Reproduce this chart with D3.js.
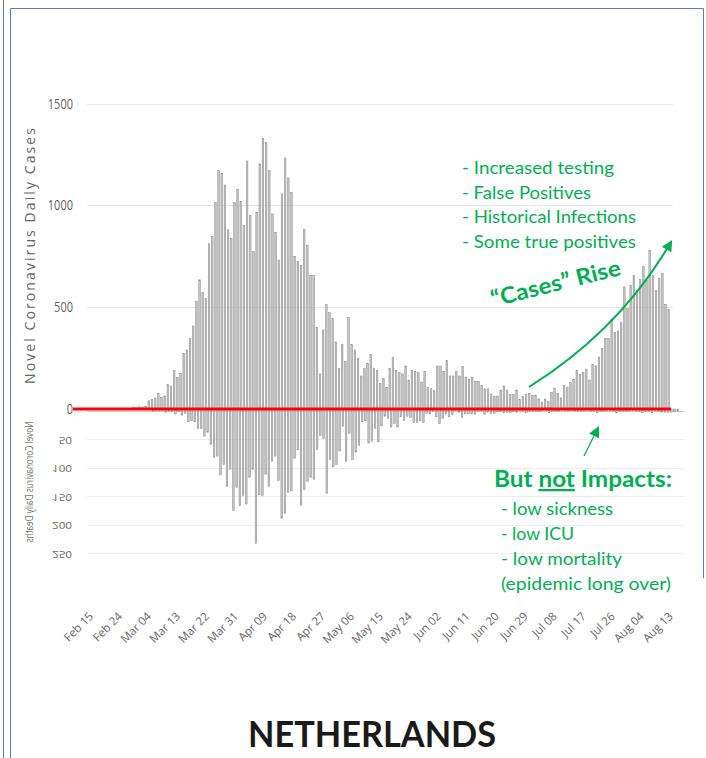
<!DOCTYPE html>
<html><head><meta charset="utf-8">
<script src="https://cdn.jsdelivr.net/npm/d3@7"></script>
<style>body{margin:0;background:#fff}svg{display:block}</style>
</head><body>
<svg id="c" width="706" height="758"></svg>
<script>
// ---------------- data ----------------
const axisStart = "2020-02-15";
const tickDates = ["2020-02-15","2020-02-24","2020-03-04","2020-03-13","2020-03-22","2020-03-31","2020-04-09",
  "2020-04-18","2020-04-27","2020-05-06","2020-05-15","2020-05-24","2020-06-02","2020-06-11","2020-06-20",
  "2020-06-29","2020-07-08","2020-07-17","2020-07-26","2020-08-04","2020-08-13"];
const caseStart = "2020-02-27";
const cases = [1,0,5,4,8,6,
  12,38,45,52,75,55,62,117,111,186,154,173,272,288,344,406,528,633,570,541,810,846,1014,1171,1155,1099,879,838,
  1012,1078,1019,901,1217,950,773,963,1203,1329,1309,1170,957,865,730,1055,1232,1134,1062,747,724,704,881,803,655,655,399,170,386,511,
  471,442,327,196,314,232,448,314,288,245,160,196,222,265,196,186,124,147,104,196,252,186,176,170,209,140,189,183,176,130,183,
  104,97,88,209,209,183,235,160,160,183,160,206,154,144,154,134,134,114,97,97,71,61,61,91,111,91,68,68,91,45,
  58,71,75,65,66,47,32,47,34,80,100,74,52,112,105,128,145,189,169,177,194,140,217,210,253,296,345,345,440,374,381,424,
  598,493,604,653,581,634,699,632,778,653,581,640,663,512,486];
const deathStart = "2020-03-06";
const deaths = [1,0,0,0,3,1,1,6,2,8,5,20,18,20,32,32,45,38,60,82,80,113,95,133,103,175,
  135,167,149,164,117,103,233,148,149,112,133,89,80,123,189,181,144,141,84,69,166,139,124,117,121,68,44,49,146,86,
  99,95,71,28,89,40,86,73,61,20,18,57,54,31,55,27,10,14,29,23,29,11,17,10,12,21,21,18,21,5,6,
  1,11,23,14,6,11,7,0,3,12,6,6,6,7,1,0,7,3,5,5,2,1,4,3,4,2,3,0,1,4,
  2,1,1,2,0,0,4,1,1,1,0,0,1,0,1,1,1,0,0,1,1,4,1,2,0,0,1,4,1,2,1,
  0,0,1,2,4,2,1,4,0,1,3,3,3,3,2,1];
const caseTicks = [0,500,1000,1500];
const deathTicks = [50,100,150,200,250];
const notesTop = ["- Increased testing","- False Positives","- Historical Infections","- Some true positives"];
const notesBottom = ["- low sickness","- low ICU","- low mortality","(epidemic long over)"];
const riseLabel = "\u201cCases\u201d Rise";
const impactParts = ["But ","not"," Impacts:"];
const titleText = "NETHERLANDS";
const casesTitle = "Novel Coronavirus Daily Cases";
const deathsTitle = "Novel Coronavirus Daily Deaths";

// ---------------- setup ----------------
const parse = d3.utcParse("%Y-%m-%d");
const day = 864e5;
const t0 = parse(axisStart);
const tEnd = parse("2020-08-13");
const svg = d3.select("#c");
const GREEN = "#00b050";

const xCase = d3.scaleUtc().domain([t0, tEnd]).range([88.6, 88.6 + 180*3.17]);
const xDeath = d3.scaleUtc().domain([t0, tEnd]).range([88.5, 88.5 + 180*3.22]);
const yCase = d3.scaleLinear().domain([0,1500]).range([408.5, 103.5]);
const yDeath = d3.scaleLinear().domain([0,250]).range([410.5, 553]);

const caseData = cases.map((v,i)=>({d:new Date(parse(caseStart).getTime()+i*day), v}));
const deathData = deaths.map((v,i)=>({d:new Date(parse(deathStart).getTime()+i*day), v}));

svg.append("rect").attr("width",706).attr("height",758).attr("fill","#fff");

// borders
const BORDER = "#5b7cb3";
svg.append("line").attr("x1",3.5).attr("x2",3.5).attr("y1",0).attr("y2",758).attr("stroke",BORDER);
svg.append("line").attr("x1",10.5).attr("x2",10.5).attr("y1",8.5).attr("y2",758).attr("stroke",BORDER);
svg.append("line").attr("x1",10.5).attr("x2",703.5).attr("y1",8.5).attr("y2",8.5).attr("stroke",BORDER);
svg.append("line").attr("x1",703.5).attr("x2",703.5).attr("y1",8.5).attr("y2",578).attr("stroke",BORDER);

// gridlines
svg.append("g").selectAll("line").data(caseTicks.filter(d=>d>0)).join("line")
  .attr("x1",87).attr("x2",673).attr("y1",d=>Math.round(yCase(d))+0.5).attr("y2",d=>Math.round(yCase(d))+0.5)
  .attr("stroke","#e6e6e6");
svg.append("g").selectAll("line").data(deathTicks).join("line")
  .attr("x1",87).attr("x2",684).attr("y1",d=>Math.round(yDeath(d))+0.5).attr("y2",d=>Math.round(yDeath(d))+0.5)
  .attr("stroke","#ececec");
svg.append("line").attr("x1",87).attr("x2",684).attr("y1",411.5).attr("y2",411.5).attr("stroke","#c8c8c8");

// case axis labels
const gy = svg.append("g").attr("transform","translate(74.5,0)")
  .call(d3.axisLeft(yCase).tickValues(caseTicks).tickFormat(d3.format("d")).tickSize(0).tickPadding(0));
gy.select(".domain").remove();
gy.selectAll("text").attr("fill","#5f5f5f").attr("font-family","Open Sans").attr("font-size",14.5)
  .attr("transform","scale(0.76,1)").attr("x",-2);

// death axis labels (vertically flipped)
const gd = svg.append("g").attr("transform","translate(72,0)")
  .call(d3.axisLeft(yDeath).tickValues(deathTicks).tickFormat(d3.format("d")).tickSize(0).tickPadding(0));
gd.select(".domain").remove();
gd.selectAll("text").attr("fill","#6a6a6a").attr("font-family","Open Sans").attr("font-size",9)
  .attr("x",0).attr("transform","scale(1.3,-1)");

// partially visible clipped label
svg.append("clipPath").attr("id","clipLbl").append("rect").attr("x",60).attr("y",599).attr("width",20).attr("height",3.5);
svg.append("text").attr("clip-path","url(#clipLbl)").attr("transform","translate(72,604) scale(1.3,-1)")
  .attr("text-anchor","end").attr("font-family","Open Sans").attr("font-size",9).attr("fill","#6a6a6a").text("300");

// axis titles
svg.append("text").attr("transform","translate(35,256) rotate(-90)").attr("text-anchor","middle")
  .attr("font-family","Open Sans").attr("font-size",14).attr("fill","#666")
  .attr("textLength",256).attr("lengthAdjust","spacing").text(casesTitle);
svg.append("text").attr("transform","translate(33,482) scale(1,-1) rotate(-90)").attr("text-anchor","middle")
  .attr("font-family","Open Sans").attr("font-size",11).attr("fill","#6f6f6f")
  .attr("textLength",121).attr("lengthAdjust","spacingAndGlyphs").text(deathsTitle);

// bars
const BAR_FILL = "#c4c4c4", BAR_STROKE = "#8a8a8a";
svg.append("g").selectAll("rect").data(caseData).join("rect")
  .attr("x",d=>xCase(d.d)-0.8).attr("width",1.6)
  .attr("y",d=>yCase(d.v)).attr("height",d=>yCase(0)-yCase(d.v))
  .attr("fill",BAR_FILL).attr("stroke",BAR_STROKE).attr("stroke-width",0.5);
svg.append("g").selectAll("rect").data(deathData).join("rect")
  .attr("x",d=>xDeath(d.d)-0.8).attr("width",1.6)
  .attr("y",409).attr("height",d=>yDeath(d.v)-409)
  .attr("fill",BAR_FILL).attr("stroke",BAR_STROKE).attr("stroke-width",0.5);

// red baseline
svg.append("line").attr("x1",73).attr("x2",671).attr("y1",409).attr("y2",409).attr("stroke","#ff0000").attr("stroke-width",3);

// date labels
const gx = svg.append("g").attr("transform","translate(5,617)")
  .call(d3.axisBottom(xDeath).tickValues(tickDates.map(parse)).tickFormat(d3.utcFormat("%b %d")).tickSize(0).tickPadding(0));
gx.select(".domain").remove();
gx.selectAll("text").attr("y",0).attr("dy",0).attr("text-anchor","end").attr("transform","rotate(-45)")
  .attr("font-family","Open Sans").attr("font-size",11.5).attr("fill","#666");

// annotations
const topW = [152,129,174,174], topY=[174.2,198.7,223.2,247.6];
svg.append("g").selectAll("text").data(notesTop).join("text")
  .attr("x",462).attr("y",(d,i)=>topY[i]).attr("textLength",(d,i)=>topW[i]).attr("lengthAdjust","spacingAndGlyphs")
  .attr("font-family","Lato").attr("font-size",17.5).attr("fill",GREEN).text(d=>d);

const botW = [112,73,121,170], botY=[515,540,564.5,589.5];
svg.append("g").selectAll("text").data(notesBottom).join("text")
  .attr("x",501).attr("y",(d,i)=>botY[i]).attr("textLength",(d,i)=>botW[i]).attr("lengthAdjust","spacingAndGlyphs")
  .attr("font-family","Lato").attr("font-size",17.5).attr("fill",GREEN).text(d=>d);

const imp = svg.append("text").attr("x",494).attr("y",487).attr("textLength",178).attr("lengthAdjust","spacingAndGlyphs")
  .attr("font-family","Lato").attr("font-weight","bold").attr("font-size",22.5).attr("fill",GREEN);
imp.selectAll("tspan").data(impactParts).join("tspan").text(d=>d)
  .attr("text-decoration",(d,i)=>i===1?"underline":null);

svg.append("text").attr("transform","translate(493,307) rotate(-14)")
  .attr("textLength",133).attr("lengthAdjust","spacingAndGlyphs")
  .attr("font-family","Lato").attr("font-weight","bold").attr("font-size",22.5).attr("fill",GREEN).text(riseLabel);

// arrows
const defs = svg.append("defs");
defs.append("marker").attr("id","ah").attr("viewBox","0 0 10 10").attr("refX",8).attr("refY",5)
  .attr("markerWidth",11).attr("markerHeight",11).attr("markerUnits","userSpaceOnUse").attr("orient","auto")
  .append("path").attr("d","M0,0 L10,5 L0,10 Z").attr("fill",GREEN);
const curve = d3.path(); curve.moveTo(529,387); curve.quadraticCurveTo(620,330,671,242);
svg.append("path").attr("d",curve.toString()).attr("fill","none").attr("stroke",GREEN).attr("stroke-width",2).attr("marker-end","url(#ah)");
svg.append("line").attr("x1",584).attr("y1",456).attr("x2",598).attr("y2",428).attr("stroke",GREEN).attr("stroke-width",1.3).attr("marker-end","url(#ah)");

// title
svg.append("text").attr("x",248).attr("y",747).attr("textLength",248).attr("lengthAdjust","spacingAndGlyphs")
  .attr("font-family","Lato").attr("font-weight","bold").attr("font-size",37).attr("fill","#1a1a1a").text(titleText);
</script>
</body></html>
